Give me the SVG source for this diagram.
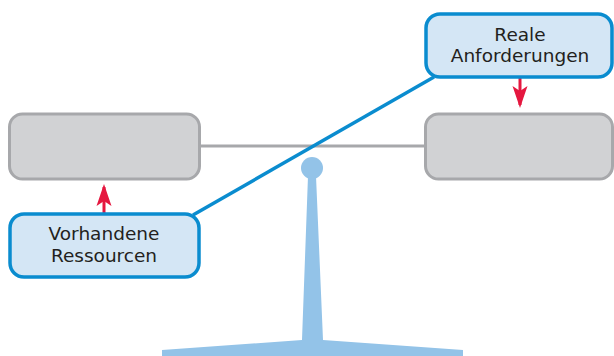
<svg xmlns="http://www.w3.org/2000/svg" width="614" height="356" viewBox="0 0 614 356">
<defs>
<style>
.gray{fill:#d1d2d4;stroke:#a7a8ab;stroke-width:3}
.blue{fill:#d4e6f5;stroke:#0a8ccf;stroke-width:3.5}
.lbl{font-family:"DejaVu Sans",sans-serif;font-size:18.5px;fill:#231f20;text-anchor:middle}
.red{stroke:#e5173f;stroke-width:3;fill:none}
</style>
<marker id="ah" viewBox="0 0 22 16" markerWidth="22" markerHeight="16" refX="19" refY="8" orient="auto" markerUnits="userSpaceOnUse">
<path d="M0 0.5 L22 8 L0 15.5 L5 8 Z" fill="#e5173f"/>
</marker>
</defs>
<g id="pedestal">
<circle cx="312" cy="168" r="11" fill="#93c3e8"/>
<polygon points="308,176 316,176 323,340 463,350 463,356 162,356 162,350 302,340" fill="#93c3e8"/>
</g>
<g id="connectors">
<line x1="200" y1="146" x2="425" y2="146" stroke="#a7a8ab" stroke-width="3"/>
<line x1="193" y1="215" x2="434" y2="77" stroke="#0a8ccf" stroke-width="3.5"/>
<line class="red" x1="104" y1="213" x2="104" y2="187" marker-end="url(#ah)"/>
<line class="red" x1="520" y1="72" x2="520" y2="105" marker-end="url(#ah)"/>
</g>
<g id="left-plate"><rect class="gray" x="9.5" y="114" width="190" height="65" rx="13"/></g>
<g id="right-plate"><rect class="gray" x="425.5" y="114" width="187" height="65" rx="13"/></g>
<g id="vorhandene">
<rect class="blue" x="10" y="214" width="189" height="63" rx="14"/>
<text class="lbl" x="104" y="240">Vorhandene</text>
<text class="lbl" x="104" y="262">Ressourcen</text>
</g>
<g id="reale">
<rect class="blue" x="426" y="14" width="186" height="63" rx="14"/>
<text class="lbl" x="520" y="40.5">Reale</text>
<text class="lbl" x="520" y="62">Anforderungen</text>
</g>
</svg>
